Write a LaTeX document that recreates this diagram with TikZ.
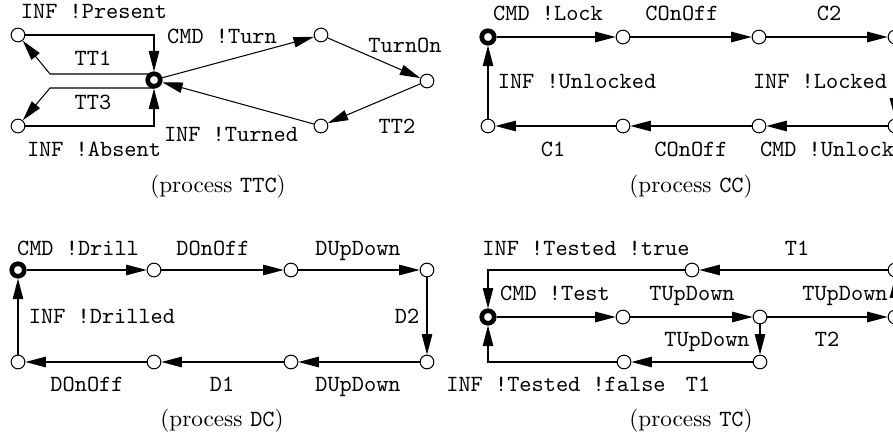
\documentclass[tikz,border=0pt]{standalone}
\usetikzlibrary{arrows.meta}
\pgfdeclarelayer{bg}
\pgfsetlayers{bg,main}
\tikzset{
  st/.style={circle, draw, fill=white, line width=0.45pt, minimum size=5.9pt, inner sep=0pt},
  ini/.style={circle, draw, fill=white, line width=2pt, minimum size=5.4pt, inner sep=0pt},
  tr/.style={-{Triangle[length=8.8pt,width=4.5pt]}, line width=0.45pt},
  lab/.style={font=\ttfamily, inner sep=0pt, anchor=base},
  captxt/.style={font=\rmfamily, inner sep=0pt, anchor=base},
}
\begin{document}
\begin{tikzpicture}[x=0.431pt, y=-0.431pt]
\useasboundingbox (0,0) rectangle (893,440);
\clip (0,0) rectangle (893,440);
% ---------------- TTC ----------------
\node[ini] (s0) at (154,80) {};
\node[st] (a) at (18,35) {};
\node[st] (b) at (18,126) {};
\node[st] (c) at (321,35) {};
\node[st] (d) at (427,81) {};
\node[st] (e) at (321,126) {};
\coordinate (ka) at (50,74);
\coordinate (kb) at (50,88);
\draw[tr] (a) -- (a -| s0) -- (s0);
\draw[tr] (b) -- (b -| s0) -- (s0);
\begin{pgfonlayer}{bg}
\draw[tr] (s0.center |- ka) -- (ka) -- (a);
\draw[tr] (s0.center |- kb) -- (kb) -- (b);
\end{pgfonlayer}
\draw[tr] (s0) -- (c);
\draw[tr] (c) -- (d);
\draw[tr] (d) -- (e);
\draw[tr] (e) -- (s0);
\node[lab] (l1) at (94,19) {INF !Present};
\node[lab] (l2) at (93,66) {TT1};
\node[lab] (l3) at (93,110) {TT3};
\node[lab] (l4) at (94,156) {INF !Absent};
\node[lab] (l5) at (222,44) {CMD !Turn};
\node[lab] (l6) at (405,53) {TurnOn};
\node[lab] (l7) at (397,133) {TT2};
\node[lab] (l8) at (231,141) {INF !Turned};
\node[captxt] (k1) at (218,192) {(process \texttt{TTC})};
% ---------------- CC ----------------
\node[ini] (c0) at (488,37) {};
\node[st] (c1) at (623,37) {};
\node[st] (c2) at (759,37) {};
\node[st] (c3) at (895,37) {};
\node[st] (c4) at (895,126) {};
\node[st] (c5) at (759,126) {};
\node[st] (c6) at (623,126) {};
\node[st] (c7) at (488,126) {};
\draw[tr] (c0) -- (c1);
\draw[tr] (c1) -- (c2);
\draw[tr] (c2) -- (c3);
\draw[tr] (c3) -- (c4);
\draw[tr] (c4) -- (c5);
\draw[tr] (c5) -- (c6);
\draw[tr] (c6) -- (c7);
\draw[tr] (c7) -- (c0);
\node[lab] (m1) at (548,21) {CMD !Lock};
\node[lab] (m2) at (682,21) {COnOff};
\node[lab] (m3) at (829,21) {C2};
\node[lab] (m4) at (820,89) {INF !Locked};
\node[lab] (m5) at (577,89) {INF !Unlocked};
\node[lab] (m6) at (827,156) {CMD !Unlock};
\node[lab] (m7) at (691,156) {COnOff};
\node[lab] (m8) at (553,156) {C1};
\node[captxt] (k2) at (691,192) {(process \texttt{CC})};
% ---------------- DC ----------------
\node[ini] (d0) at (18,270) {};
\node[st] (d1) at (154,270) {};
\node[st] (d2) at (291,270) {};
\node[st] (d3) at (427,270) {};
\node[st] (d4) at (427,362) {};
\node[st] (d5) at (291,362) {};
\node[st] (d6) at (154,362) {};
\node[st] (d7) at (18,362) {};
\draw[tr] (d0) -- (d1);
\draw[tr] (d1) -- (d2);
\draw[tr] (d2) -- (d3);
\draw[tr] (d3) -- (d4);
\draw[tr] (d4) -- (d5);
\draw[tr] (d5) -- (d6);
\draw[tr] (d6) -- (d7);
\draw[tr] (d7) -- (d0);
\node[lab] (n1) at (78,255) {CMD !Drill};
\node[lab] (n2) at (213,255) {DOnOff};
\node[lab] (n3) at (358,255) {DUpDown};
\node[lab] (n4) at (407,323) {D2};
\node[lab] (n5) at (102,323) {INF !Drilled};
\node[lab] (n6) at (358,391) {DUpDown};
\node[lab] (n7) at (222,391) {D1};
\node[lab] (n8) at (87,391) {DOnOff};
\node[captxt] (k3) at (222,426) {(process \texttt{DC})};
% ---------------- TC ----------------
\node[ini] (t0) at (488,317) {};
\node[st] (t1) at (623,317) {};
\node[st] (t2) at (760,317) {};
\node[st] (t3) at (895,317) {};
\node[st] (t4) at (895,270) {};
\node[st] (t5) at (692,270) {};
\node[st] (t6) at (760,362) {};
\node[st] (t7) at (624,362) {};
\draw[tr] (t0) -- (t1);
\draw[tr] (t1) -- (t2);
\draw[tr] (t2) -- (t3);
\draw[tr] (t3) -- (t4);
\draw[tr] (t4) -- (t5);
\draw[tr] (t5) -- (t5 -| t0) -- (t0);
\draw[tr] (t2) -- (t6);
\draw[tr] (t6) -- (t7);
\draw[tr] (t7) -- (t7 -| t0) -- (t0);
\node[lab] (o1) at (586,255) {INF !Tested !true};
\node[lab] (o2) at (797,255) {T1};
\node[lab] (o3) at (555,300) {CMD !Test};
\node[lab] (o4) at (692,300) {TUpDown};
\node[lab] (o5) at (845,300) {TUpDown};
\node[lab] (o6) at (707,346) {TUpDown};
\node[lab] (o7) at (827,346) {T2};
\node[lab] (o8) at (556,391) {INF !Tested !false};
\node[lab] (o9) at (698,391) {T1};
\node[captxt] (k4) at (691,426) {(process \texttt{TC})};
\end{tikzpicture}
\end{document}
